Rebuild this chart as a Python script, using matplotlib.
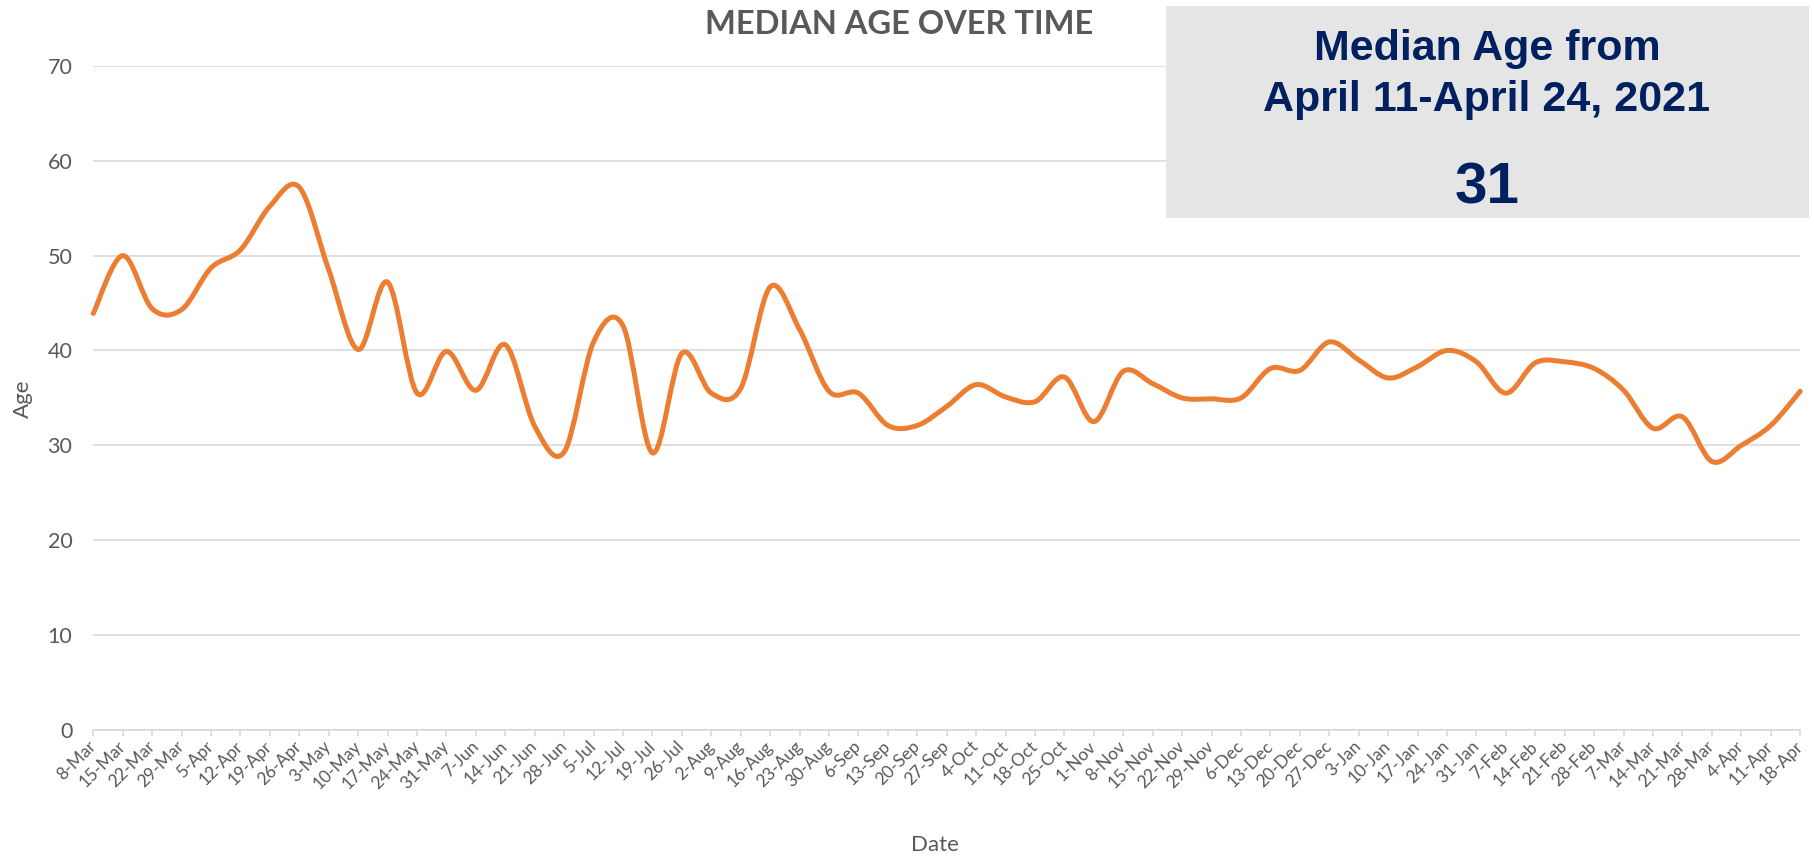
import numpy as np
import matplotlib
matplotlib.use("Agg")
import matplotlib.pyplot as plt
from matplotlib.path import Path
from matplotlib.patches import PathPatch, Rectangle

# weekly median age, 8-Mar-2020 .. 18-Apr-2021
week_labels = ["8-Mar", "15-Mar", "22-Mar", "29-Mar", "5-Apr", "12-Apr", "19-Apr", "26-Apr",
               "3-May", "10-May", "17-May", "24-May", "31-May", "7-Jun", "14-Jun", "21-Jun",
               "28-Jun", "5-Jul", "12-Jul", "19-Jul", "26-Jul", "2-Aug", "9-Aug", "16-Aug",
               "23-Aug", "30-Aug", "6-Sep", "13-Sep", "20-Sep", "27-Sep", "4-Oct", "11-Oct",
               "18-Oct", "25-Oct", "1-Nov", "8-Nov", "15-Nov", "22-Nov", "29-Nov", "6-Dec",
               "13-Dec", "20-Dec", "27-Dec", "3-Jan", "10-Jan", "17-Jan", "24-Jan", "31-Jan",
               "7-Feb", "14-Feb", "21-Feb", "28-Feb", "7-Mar", "14-Mar", "21-Mar", "28-Mar",
               "4-Apr", "11-Apr", "18-Apr"]
median_age = [43.9, 50.0, 44.4, 44.3, 48.7, 50.6, 55.2, 57.2,
              48.5, 40.1, 47.2, 35.5, 39.9, 35.8, 40.6, 32.0,
              29.3, 40.9, 42.6, 29.2, 39.7, 35.5, 36.0, 46.7,
              42.2, 35.7, 35.5, 32.1, 32.1, 34.1, 36.4, 35.1,
              34.6, 37.2, 32.5, 37.8, 36.5, 35.0, 34.9, 35.0,
              38.1, 37.9, 40.9, 39.0, 37.1, 38.3, 40.0, 38.8,
              35.5, 38.7, 38.8, 38.1, 35.8, 31.8, 33.0, 28.3,
              30.0, 32.1, 35.7]
y_ticks = [0, 10, 20, 30, 40, 50, 60, 70]

box_line1 = "Median Age from"
box_line2 = "April 11-April 24, 2021"
box_value = "31"

ORANGE = "#ED7D31"
GREY_TXT = "#595959"
GRID = "#D9D9D9"
NAVY = "#002060"

plt.rcParams['font.family'] = ['Lato', 'DejaVu Sans']

W, H = 1815, 856
fig = plt.figure(figsize=(W / 100, H / 100), dpi=100)
ax = fig.add_axes([93.3 / W, 1 - 730 / H, (1800.2 - 93.3) / W, (730 - 65.8) / H])

x = np.arange(len(median_age), dtype=float)
y = np.array(median_age, dtype=float)


def smooth_path(xs, ys):
    # excel-style smoothed line: cubic bezier segments through each point
    pts = np.column_stack([xs, ys])
    n = len(pts)
    verts = [pts[0]]
    codes = [Path.MOVETO]
    for i in range(n - 1):
        p_prev = pts[i - 1] if i > 0 else pts[i]
        p_next2 = pts[i + 2] if i + 2 < n else pts[i + 1]
        c1 = pts[i] + (pts[i + 1] - p_prev) / 6.0
        c2 = pts[i + 1] - (p_next2 - pts[i]) / 6.0
        verts += [c1, c2, pts[i + 1]]
        codes += [Path.CURVE4] * 3
    return Path(verts, codes)


line = PathPatch(smooth_path(x, y), facecolor="none", edgecolor=ORANGE, lw=3.6,
                 capstyle="round", joinstyle="round", transform=ax.transData,
                 clip_on=False, zorder=3)
ax.add_patch(line)

ax.set_xlim(0, len(median_age) - 1)
ax.set_ylim(0, 70)
ax.set_yticks(y_ticks)
ax.yaxis.grid(True, color=GRID, lw=1.2)
ax.set_axisbelow(True)
for s in ["top", "right", "left"]:
    ax.spines[s].set_visible(False)
ax.spines["bottom"].set_color(GRID)
ax.spines["bottom"].set_linewidth(1.2)

ax.set_xticks(x)
ax.set_xticklabels(week_labels, rotation=45, ha="right", va="center",
                   rotation_mode="anchor", fontsize=12.5, color=GREY_TXT)
ax.tick_params(axis="x", length=4, width=1.2, color=GRID, pad=6)
ax.tick_params(axis="y", length=0, pad=15, labelsize=15.5, labelcolor=GREY_TXT)

fig.text(23 / W, 1 - 399 / H, "Age", rotation=90, ha="center", va="center",
         fontsize=16, color=GREY_TXT)
fig.text(935 / W, 1 - 845 / H, "Date", ha="center", va="center",
         fontsize=16, color=GREY_TXT)
fig.text(899 / W, 1 - 24 / H, "MEDIAN AGE OVER TIME", ha="center", va="center",
         fontsize=23.5, fontweight="bold", color=GREY_TXT)

# summary box
box = Rectangle((1166 / W, 1 - 218 / H), (1809 - 1166) / W, (218 - 6) / H,
                transform=fig.transFigure, facecolor="#E5E5E5", edgecolor="none", zorder=5)
fig.add_artist(box)
box_font = ["Liberation Sans", "DejaVu Sans"]
fig.text(1487 / W, 1 - 49 / H, box_line1, ha="center", va="center", fontsize=31,
         fontweight="bold", color=NAVY, family=box_font, zorder=6)
fig.text(1487 / W, 1 - 100 / H, box_line2, ha="center", va="center", fontsize=31,
         fontweight="bold", color=NAVY, family=box_font, zorder=6)
fig.text(1487 / W, 1 - 188 / H, box_value, ha="center", va="center", fontsize=42,
         fontweight="bold", color=NAVY, family=box_font, zorder=6)

fig.savefig("out.png", dpi=100, facecolor="white")
